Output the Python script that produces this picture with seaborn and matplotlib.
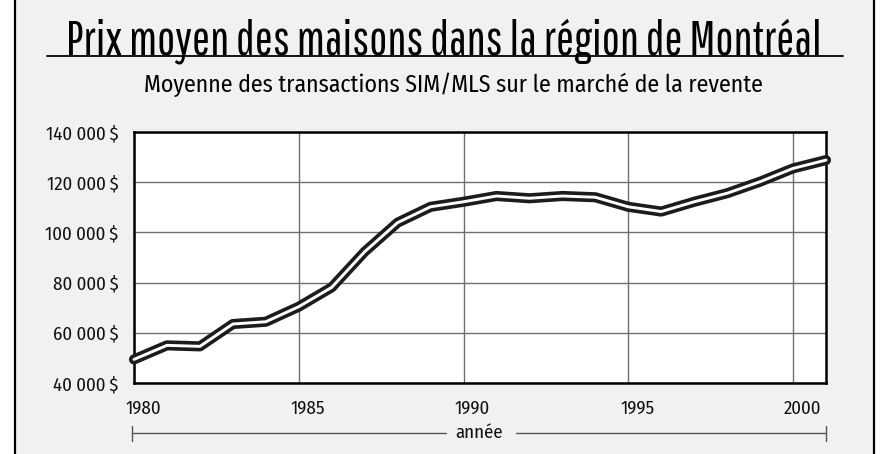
import matplotlib
matplotlib.use("Agg")
import matplotlib.pyplot as plt
import seaborn as sns
from matplotlib.lines import Line2D
from matplotlib.patches import Rectangle
from matplotlib.ticker import FixedLocator, FuncFormatter
import matplotlib.transforms as mtransforms

# ---- data ----
annees = list(range(1980, 2002))
prix = [49400, 55000, 54600, 63500, 64400, 70400, 78100, 92300, 103900, 110200,
        112200, 114500, 113600, 114500, 114000, 110200, 108300, 112200, 115600,
        120200, 125500, 128800]
ticks_annees = [1980, 1985, 1990, 1995, 2000]
ticks_prix = [40000, 60000, 80000, 100000, 120000, 140000]

titre = "Prix moyen des maisons dans la région de Montréal"
sous_titre = "Moyenne des transactions SIM/MLS sur le marché de la revente"
label_x = "année"

# ---- fonts ----
sns.set_theme(style="white")
plt.rcParams["font.family"] = ["Fira Sans Condensed", "DejaVu Sans"]
police_titre = ["Pathway Gothic One", "DejaVu Sans"]

W, H = 880, 454
fig = plt.figure(figsize=(W / 100, H / 100), dpi=100, facecolor="white")

def fx(px):
    return px / W

def fy(py):
    return 1 - py / H

# grey panel with black side rules
fig.patches.append(Rectangle((fx(15), 0), fx(874) - fx(15), 1, transform=fig.transFigure,
                             facecolor="#f1f1f1", edgecolor="none", zorder=-10))
for xx in (15, 874):
    fig.add_artist(Line2D([fx(xx), fx(xx)], [0, 1], transform=fig.transFigure,
                          color="black", lw=1.6))

# title + underline
fig.text(fx(444), fy(55), titre, family=police_titre, fontsize=34.5,
         ha="center", va="baseline", color="black")
fig.add_artist(Line2D([fx(47), fx(843)], [fy(56), fy(56)], transform=fig.transFigure,
                      color="black", lw=1.3))
fig.text(fx(453), fy(92), sous_titre, fontsize=17.2,
         ha="center", va="baseline", color="black")

# axes
ax = fig.add_axes([fx(134), fy(383), fx(826) - fx(134), fy(132) - fy(383)])
ax.set_facecolor("white")

sns.lineplot(x=annees, y=prix, ax=ax, color="#1c1c1c", lw=7.3, clip_on=False,
             solid_capstyle="round", solid_joinstyle="round", zorder=3)
sns.lineplot(x=annees, y=prix, ax=ax, color="white", lw=2.1, clip_on=False,
             solid_capstyle="round", solid_joinstyle="round", zorder=4)

ax.set_xlim(1980, 2001)
ax.set_ylim(40000, 140000)
ax.xaxis.set_major_locator(FixedLocator(ticks_annees))
ax.yaxis.set_major_locator(FixedLocator(ticks_prix))
ax.yaxis.set_major_formatter(FuncFormatter(
    lambda v, p: f"{int(v):,}".replace(",", " ") + "\u2009$"))
ax.grid(True, color="#6f6f6f", lw=1.0)
ax.set_axisbelow(True)
for s in ax.spines.values():
    s.set_visible(True)
    s.set_color("black")
    s.set_linewidth(1.8)
ax.tick_params(axis="both", length=0, labelsize=13.5, colors="#111111")
ax.tick_params(axis="y", pad=11)
ax.tick_params(axis="x", pad=12)
decal = mtransforms.ScaledTranslation(9 / 100, 0, fig.dpi_scale_trans)
for lab in ax.get_xticklabels():
    lab.set_transform(lab.get_transform() + decal)
ax.set_xlabel("")
ax.set_ylabel("")

# "année" bracket under the axis
yb = fy(433)
fig.add_artist(Line2D([fx(132), fx(446)], [yb, yb], transform=fig.transFigure, color="#555555", lw=1.0))
fig.add_artist(Line2D([fx(516), fx(826)], [yb, yb], transform=fig.transFigure, color="#555555", lw=1.0))
for xx in (132, 826):
    fig.add_artist(Line2D([fx(xx), fx(xx)], [fy(426), fy(441)], transform=fig.transFigure,
                          color="#555555", lw=1.0))
fig.text(fx(479), yb, label_x, fontsize=13.5, ha="center", va="center", color="#111111")

fig.savefig("out.png", dpi=100, facecolor=fig.get_facecolor())
